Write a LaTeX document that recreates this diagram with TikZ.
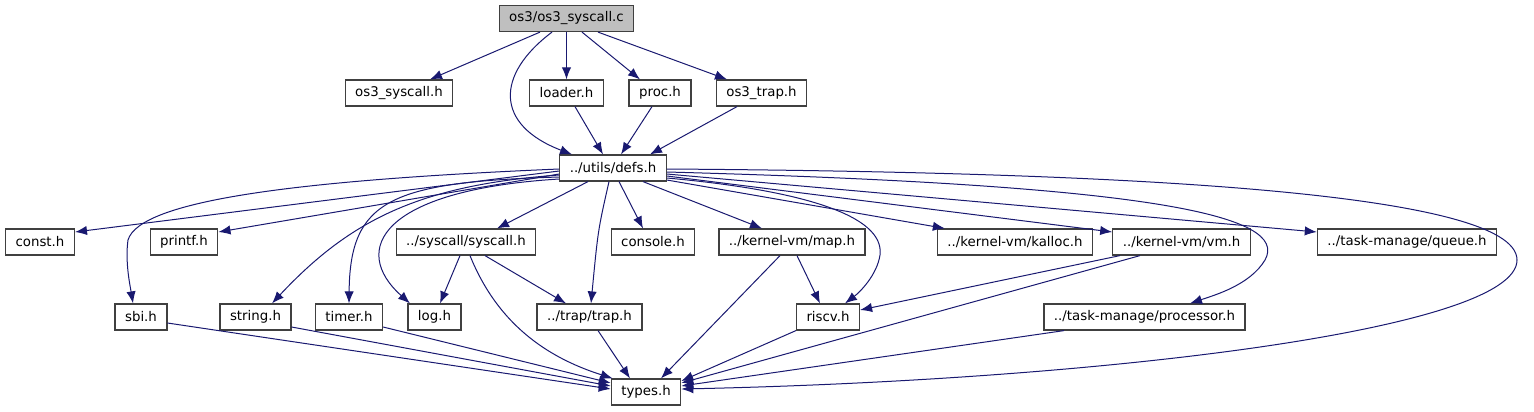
\documentclass[tikz,border=0pt]{standalone}
\usepackage{fontspec}
\setmainfont{DejaVu Sans}
\usetikzlibrary{arrows.meta,calc}
\definecolor{edgeblue}{HTML}{191970}
\begin{document}
\begin{tikzpicture}[x=0.75pt,y=-0.75pt,font=\fontsize{10}{12}\selectfont,
  file/.style={draw=black!75,line width=0.9pt,minimum height=19.5pt,inner xsep=7.5pt,inner ysep=0pt,fill=white},
  dep/.style={draw=edgeblue,line width=0.75pt,-{Latex[length=9pt,width=7pt]}}]
\useasboundingbox (0,0) rectangle (1534,411);
% files
\node[file,fill=black!25] (src) at (566.5,18.5) {os3/os3\_syscall.c};
\node[file] (os3h) at (399,93) {os3\_syscall.h};
\node[file] (loader) at (566.5,93) {loader.h};
\node[file] (proc) at (660,93) {proc.h};
\node[file] (os3trap) at (761.5,93) {os3\_trap.h};
\node[file] (defs) at (613,168) {../utils/defs.h};
\node[file] (const) at (40,242) {const.h};
\node[file] (printf) at (184,242) {printf.h};
\node[file] (syscall) at (466,242) {../syscall/syscall.h};
\node[file] (console) at (653,242) {console.h};
\node[file] (map) at (792,242) {../kernel-vm/map.h};
\node[file] (kalloc) at (1015,242) {../kernel-vm/kalloc.h};
\node[file] (vm) at (1181.5,242) {../kernel-vm/vm.h};
\node[file] (queue) at (1407,242) {../task-manage/queue.h};
\node[file] (sbi) at (141,317) {sbi.h};
\node[file] (string) at (255.5,317) {string.h};
\node[file] (timer) at (349,317) {timer.h};
\node[file] (log) at (434.5,317) {log.h};
\node[file] (trap) at (589.5,317) {../trap/trap.h};
\node[file] (riscv) at (828,317) {riscv.h};
\node[file] (processor) at (1144.5,317) {../task-manage/processor.h};
\node[file] (types) at (646,392) {types.h};
% includes of os3_syscall.c
\draw[dep] ($(src.south)+(-26.5,0)$) -- ($(os3h.north)+(31,0)$);
\draw[dep] (src.south) -- (loader.north);
\draw[dep] ($(src.south)+(15.5,0)$) -- ($(proc.north)+(-20,0)$);
\draw[dep] ($(src.south)+(31.5,0)$) -- ($(os3trap.north)+(-34.5,0)$);
\draw[dep] ($(src.south)+(-14.5,0)$) .. controls (495,75) and (495,125) .. ($(defs.north)+(-41,0)$);
\draw[dep] ($(loader.south)+(8.5,0)$) -- ($(defs.north)+(-10,0)$);
\draw[dep] ($(proc.south)+(-8,0)$) -- ($(defs.north)+(8,0)$);
\draw[dep] ($(os3trap.south)+(-24.5,0)$) -- ($(defs.north)+(37,0)$);
% includes of defs.h
\draw[dep] ($(defs.west)+(0,3)$) -- ($(const.east)+(0,-10)$);
\draw[dep] ($(defs.west)+(0,6)$) -- ($(printf.east)+(0,-10)$);
\draw[dep] ($(defs.west)+(0,1)$) .. controls (300,180) and (140,200) .. (128,240) .. controls (125,262) and (130,285) .. ($(sbi.north)+(-8,0)$);
\draw[dep] ($(defs.west)+(0,7)$) .. controls (420,185) and (350,220) .. ($(string.north)+(16.5,0)$);
\draw[dep] ($(defs.west)+(0,9)$) .. controls (390,182) and (350,200) .. (timer.north);
\draw[dep] ($(defs.west)+(0,11)$) .. controls (380,190) and (350,250) .. ($(log.north)+(-24.5,0)$);
\draw[dep] ($(defs.south)+(-25,0)$) -- ($(syscall.north)+(31,0)$);
\draw[dep] ($(defs.south)+(-4,0)$) .. controls (598,230) .. ($(trap.north)+(1.5,0)$);
\draw[dep] ($(defs.south)+(6,0)$) -- ($(console.north)+(-10,0)$);
\draw[dep] ($(defs.south)+(30,0)$) -- ($(map.north)+(-30,0)$);
\draw[dep] ($(defs.east)+(0,10)$) .. controls (800,190) and (885,215) .. (880,255) .. controls (877,275) and (860,292) .. ($(riscv.north)+(17,0)$);
\draw[dep] ($(defs.east)+(0,12)$) -- ($(kalloc.north west)+(8,0)$);
\draw[dep] ($(defs.east)+(0,8)$) -- ($(vm.west)+(0,-10)$);
\draw[dep] ($(defs.east)+(0,6)$) -- ($(queue.west)+(0,-10)$);
\draw[dep] ($(defs.east)+(0,4)$) .. controls (1150,185) and (1290,215) .. (1265,260) .. controls (1250,285) and (1215,295) .. ($(processor.north)+(45.5,0)$);
\draw[dep] ($(defs.east)+(0,1)$) .. controls (1100,172) and (1517,190) .. (1517,260) .. controls (1517,330) and (1100,380) .. ($(types.east)+(0,-3)$);
% second level
\draw[dep] ($(syscall.south)+(-6,0)$) -- ($(log.north)+(5.5,0)$);
\draw[dep] ($(syscall.south)+(19,0)$) -- ($(trap.north)+(-23.5,0)$);
\draw[dep] ($(syscall.south)+(4,0)$) .. controls (500,330) and (555,360) .. ($(types.north west)+(2,0)$);
\draw[dep] ($(map.south)+(5,0)$) -- ($(riscv.north)+(-8,0)$);
\draw[dep] ($(map.south)+(-12,0)$) -- ($(types.north)+(15,0)$);
\draw[dep] ($(vm.south)+(-61.5,0)$) -- ($(riscv.east)+(0,-7)$);
\draw[dep] ($(vm.south)+(-41.5,0)$) -- ($(types.east)+(0,-9)$);
% into types.h
\draw[dep] ($(sbi.east)+(0,6)$) -- ($(types.west)+(0,-3)$);
\draw[dep] ($(string.east)+(0,10)$) -- ($(types.west)+(0,-6)$);
\draw[dep] ($(timer.east)+(0,10)$) -- ($(types.west)+(0,-9)$);
\draw[dep] ($(trap.south)+(8.5,0)$) -- ($(types.north)+(-16,0)$);
\draw[dep] (riscv.south west) -- ($(types.east)+(0,-11)$);
\draw[dep] ($(processor.south)+(-80.5,0)$) -- ($(types.east)+(0,-6)$);
\end{tikzpicture}
\end{document}
